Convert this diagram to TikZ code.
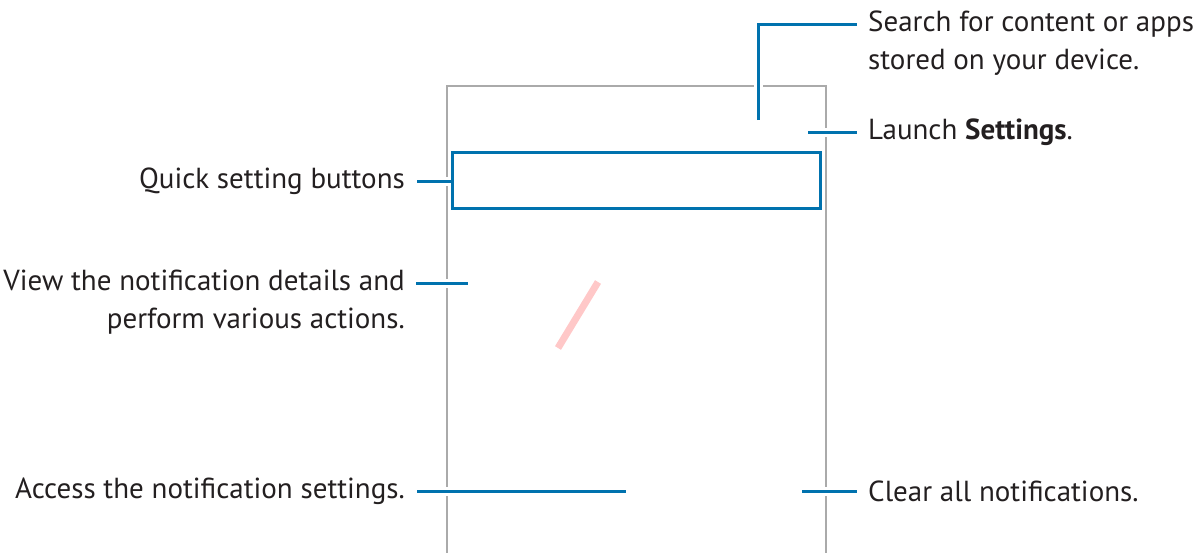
\documentclass[tikz,border=0pt]{standalone}
\usepackage{fontspec}
\setmainfont{PT Sans}
\definecolor{sblue}{RGB}{0,114,174}
\definecolor{sgray}{RGB}{170,170,170}
\definecolor{stext}{RGB}{35,31,32}
\definecolor{spink}{RGB}{255,200,200}
\begin{document}
\begin{tikzpicture}[x=1pt,y=-1pt,
  frame/.style={draw=sgray,line width=1.5pt},
  callout/.style={draw=sblue,line width=3pt,preaction={draw=white,line width=9pt}},
  lbl/.style={text=stext,font=\fontsize{29}{38.5}\selectfont,inner sep=0pt},
  lblL/.style={lbl,anchor=east,align=right},
  lblR/.style={lbl,anchor=west,align=left}]
\useasboundingbox (0,0) rectangle (1203,552);
% device frame
\draw[frame] (447,560) -- (447,86) -- (826,86) -- (826,560);
% labels
\node[lblR] (search) at (868,43) {Search for content or apps\\stored on your device.};
\node[lblR] (launch) at (868,132) {Launch \textbf{Settings}.};
\node[lblL] (quick) at (405,181) {Quick setting buttons};
\node[lblL] (view) at (405,302) {View the notification details and\\perform various actions.};
\node[lblL] (access) at (405,491) {Access the notification settings.};
\node[lblR] (clear) at (868,491) {Clear all notifications.};
% free ends
\coordinate (searchEnd) at (758,120);
\coordinate (searchIn) at (857,24);
\coordinate (launchEnd) at (808,132);
\coordinate (launchIn) at (857,132);
\coordinate (quickIn) at (417,181);
\coordinate (viewIn) at (416,283);
\coordinate (viewEnd) at (468,283);
\coordinate (accessIn) at (417,491);
\coordinate (accessEnd) at (626,491);
\coordinate (clearEnd) at (802,491);
\coordinate (clearIn) at (857,491);
% connectors
\draw[callout] (searchEnd) -- (searchEnd |- searchIn) -- (searchIn);
\draw[callout] (launchEnd) -- (launchIn);
\draw[callout] (quickIn) -- (452,181);
\draw[callout] (viewIn) -- (viewEnd);
\draw[callout] (accessIn) -- (accessEnd);
\draw[callout] (clearEnd) -- (clearIn);
% quick settings box
\node[draw=sblue,line width=3pt,minimum width=368pt,minimum height=56pt,inner sep=0pt] (qbox) at (636,180) {};
% pink gesture stroke
\draw[spink,line width=7pt] (558,348) -- (598,282);
\end{tikzpicture}
\end{document}
